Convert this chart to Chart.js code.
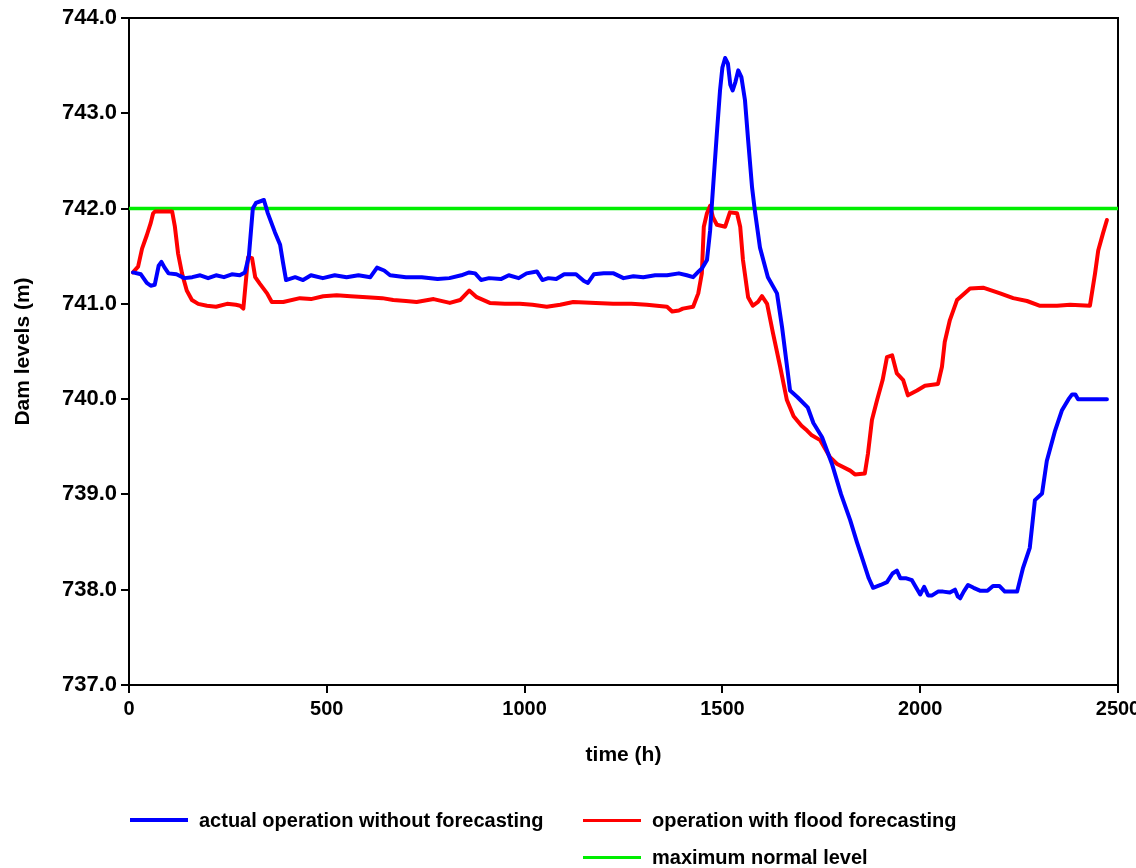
<!DOCTYPE html>
<html>
<head>
<meta charset="utf-8">
<script src="https://cdn.jsdelivr.net/npm/chart.js@4/dist/chart.umd.min.js"></script>
<style>
  body { margin: 0; background: #fff; }
  #wrap { position: relative; width: 1136px; height: 868px; font-family: "Liberation Sans", Arial, sans-serif; }
  #box { position: absolute; left: 0; top: 0; width: 1136px; height: 785px; }
  #legend { position: absolute; left: 0; top: 0; width: 1136px; height: 868px; pointer-events: none; }
  .item { position: absolute; display: flex; align-items: center; height: 24px; font-weight: bold; font-size: 20px; color: #000; white-space: nowrap; }
  .item i { display: inline-block; width: 58px; margin-right: 11px; }
</style>
</head>
<body>
<div id="wrap">
  <div id="box"><canvas id="damChart"></canvas></div>
  <div id="legend"></div>
</div>
<script>
// tempo (h) e livelli (m s.l.m.) - esercizio reale senza previsione
const actualHours = [
  10, 30, 45, 55, 65, 75, 82, 90, 100, 120, 140, 160, 180, 200, 220, 240, 260, 280, 293,
  303, 313, 321, 341, 351, 369, 382, 389, 397, 420, 440, 460, 490, 520, 550, 580, 610,
  627, 645, 660, 700, 740, 780, 810, 840, 860, 875, 890, 910, 940, 960, 985, 1005, 1031,
  1045, 1060, 1080, 1100, 1130, 1150, 1160, 1175, 1200, 1225, 1250, 1275, 1300, 1330,
  1360, 1390, 1410, 1426, 1440, 1448, 1461, 1469, 1474, 1486, 1494, 1500, 1507, 1514,
  1520, 1526, 1533, 1540, 1548, 1557, 1565, 1575, 1582, 1595, 1615, 1638, 1651, 1671,
  1690, 1716, 1730, 1752, 1777, 1800, 1823, 1840, 1855, 1870, 1881, 1900, 1916, 1930,
  1941, 1950, 1965, 1979, 1990, 2000, 2010, 2020, 2030, 2045, 2058, 2075, 2088, 2095,
  2101, 2110, 2121, 2135, 2151, 2170, 2184, 2200, 2214, 2245, 2260, 2277, 2290, 2308,
  2320, 2341, 2358, 2375, 2384, 2392, 2399, 2440, 2472
];
const actualLevels = [
  741.33, 741.31, 741.22, 741.19, 741.2, 741.4, 741.44, 741.38, 741.32, 741.31, 741.27,
  741.28, 741.3, 741.27, 741.3, 741.28, 741.31, 741.3, 741.33,
  741.5, 742.0, 742.06, 742.09, 741.95, 741.75, 741.62, 741.44, 741.25, 741.28, 741.25,
  741.3, 741.27, 741.3, 741.28, 741.3, 741.28,
  741.38, 741.35, 741.3, 741.28, 741.28, 741.26, 741.27, 741.3, 741.33, 741.32, 741.25,
  741.27, 741.26, 741.3, 741.27, 741.32, 741.34,
  741.25, 741.27, 741.26, 741.31, 741.31, 741.24, 741.22, 741.31, 741.32, 741.32, 741.27,
  741.29, 741.28, 741.3,
  741.3, 741.32, 741.3, 741.28, 741.34, 741.37, 741.46, 741.77, 742.08, 742.79, 743.24,
  743.48, 743.58, 743.52,
  743.3, 743.24, 743.33, 743.45, 743.38, 743.14, 742.72, 742.22, 741.98, 741.59, 741.28,
  741.11, 740.75, 740.09,
  740.02, 739.91, 739.75, 739.6, 739.32, 739.0, 738.73, 738.5, 738.31, 738.12, 738.02,
  738.05, 738.08, 738.17,
  738.2, 738.12, 738.12, 738.1, 738.02, 737.95, 738.03, 737.94, 737.94, 737.98, 737.98,
  737.97, 738.0, 737.93,
  737.91, 737.98, 738.05, 738.02, 737.99, 737.99, 738.04, 738.04, 737.98, 737.98, 738.23,
  738.44, 738.94, 739.01,
  739.35, 739.67, 739.88, 740.0, 740.05, 740.05, 740.0, 740.0, 740.0
];

// esercizio con previsione delle piene
const forecastHours = [
  10, 23, 33, 45, 55, 61, 66, 109, 116, 124, 134, 146, 159, 175, 197, 220, 248, 270, 281,
  289, 301, 311, 319, 331, 349, 361, 390, 432, 460, 491, 525, 560, 601, 640, 668, 700,
  727, 770, 811, 837, 860, 879, 912, 950, 988, 1020, 1056, 1090, 1123, 1180, 1224, 1270,
  1309, 1360, 1373, 1390, 1400, 1426, 1439, 1448, 1453, 1461, 1469, 1476, 1486, 1507,
  1519, 1537, 1545, 1552, 1565, 1577, 1590, 1600, 1613, 1628, 1646, 1663, 1680, 1700,
  1714, 1726, 1747, 1772, 1790, 1823, 1835, 1860, 1868, 1878, 1891, 1905, 1916, 1929,
  1941, 1957, 1969, 1992, 2012, 2045, 2055, 2062, 2075, 2093, 2101, 2126, 2159, 2202,
  2235, 2270, 2303, 2346, 2379, 2429, 2442, 2450, 2462, 2472
];
const forecastLevels = [
  741.33, 741.39, 741.58, 741.72, 741.85, 741.95, 741.97, 741.97, 741.81, 741.53, 741.32,
  741.14, 741.04, 741.0, 740.98, 740.97, 741.0, 740.99, 740.98,
  740.95, 741.49, 741.48, 741.28, 741.21, 741.11, 741.02, 741.02, 741.06, 741.05, 741.08,
  741.09, 741.08, 741.07, 741.06, 741.04, 741.03,
  741.02, 741.05, 741.01, 741.04, 741.14, 741.07, 741.01, 741.0, 741.0, 740.99, 740.97,
  740.99, 741.02, 741.01, 741.0, 741.0,
  740.99, 740.97, 740.92, 740.93, 740.95, 740.97, 741.11, 741.32, 741.81, 741.95, 742.03,
  741.91, 741.83, 741.81,
  741.96, 741.95, 741.81, 741.46, 741.07, 740.98, 741.02, 741.08, 741.0, 740.69, 740.34,
  739.99, 739.82, 739.72,
  739.67, 739.62, 739.57, 739.39, 739.32, 739.25, 739.21, 739.22, 739.43, 739.78, 739.99,
  740.2, 740.44, 740.46,
  740.27, 740.2, 740.04, 740.09, 740.14, 740.16, 740.34, 740.6, 740.83, 741.04, 741.07,
  741.16, 741.17, 741.11,
  741.06, 741.03, 740.98, 740.98, 740.99, 740.98, 741.32, 741.56, 741.74, 741.88
];

// livello massimo normale
const maxLevelHours = [0, 2500];
const maxLevelValues = [742.0, 742.0];

const seriesLabels = [
  "actual operation without forecasting",
  "operation with flood forecasting",
  "maximum normal level"
];

const toPoints = (xs, ys) => xs.map((x, i) => ({ x: x, y: ys[i] }));

const FONT = "'Liberation Sans', Arial, sans-serif";

// cornice attorno all'area del grafico
const frame = {
  id: "frame",
  beforeDatasetsDraw(chart) {
    const { ctx, chartArea: a } = chart;
    ctx.save();
    ctx.strokeStyle = "#000";
    ctx.lineWidth = 2;
    ctx.strokeRect(a.left, a.top, a.right - a.left, a.bottom - a.top);
    ctx.restore();
  }
};

const ctx = document.getElementById("damChart").getContext("2d");
const chart = new Chart(ctx, {
  type: "line",
  data: {
    datasets: [
      {
        label: seriesLabels[0],
        data: toPoints(actualHours, actualLevels),
        borderColor: "#0000ff",
        borderWidth: 4
      },
      {
        label: seriesLabels[1],
        data: toPoints(forecastHours, forecastLevels),
        borderColor: "#ff0000",
        borderWidth: 4
      },
      {
        label: seriesLabels[2],
        data: toPoints(maxLevelHours, maxLevelValues),
        borderColor: "#00ee00",
        borderWidth: 3.5
      }
    ]
  },
  options: {
    responsive: true,
    maintainAspectRatio: false,
    animation: false,
    layout: { padding: { top: 18, right: 18, left: 0, bottom: 0 } },
    elements: {
      point: { radius: 0 },
      line: { tension: 0, fill: false, borderJoinStyle: "round", borderCapStyle: "round" }
    },
    plugins: {
      legend: { display: false },
      tooltip: { enabled: false }
    },
    scales: {
      x: {
        type: "linear",
        min: 0,
        max: 2500,
        ticks: {
          stepSize: 500,
          color: "#000",
          padding: 4,
          maxRotation: 0,
          font: { family: FONT, size: 20, weight: "bold" },
          callback: (v) => String(v)
        },
        grid: { drawOnChartArea: false, tickLength: 8, color: "#000", lineWidth: 2 },
        border: { display: true, color: "#000", width: 2 },
        title: {
          display: true,
          text: "time (h)",
          color: "#000",
          padding: { top: 0, bottom: 17 },
          font: { family: FONT, size: 21, weight: "bold" }
        },
        afterFit(scale) {
          scale.height = 100;
          scale.paddingLeft = 0;
          scale.paddingRight = 0;
        }
      },
      y: {
        min: 737,
        max: 744,
        ticks: {
          stepSize: 1,
          color: "#000",
          padding: 4,
          font: { family: FONT, size: 22, weight: "bold" },
          callback: (v) => v.toFixed(1)
        },
        grid: { drawOnChartArea: false, tickLength: 8, color: "#000", lineWidth: 2 },
        border: { display: true, color: "#000", width: 2 },
        title: {
          display: true,
          text: "Dam levels (m)",
          color: "#000",
          padding: { top: 11, bottom: 0 },
          font: { family: FONT, size: 21, weight: "bold" }
        },
        afterFit(scale) {
          scale.width = 129;
          scale.paddingTop = 0;
          scale.paddingBottom = 0;
        }
      }
    }
  },
  plugins: [frame]
});

// legenda su due righe, seconda colonna allineata
const legendPos = [
  { left: 130, top: 808 },
  { left: 583, top: 808 },
  { left: 583, top: 845 }
];
const legendEl = document.getElementById("legend");
chart.data.datasets.forEach((ds, i) => {
  const item = document.createElement("div");
  item.className = "item";
  item.style.left = legendPos[i].left + "px";
  item.style.top = legendPos[i].top + "px";
  const swatch = document.createElement("i");
  swatch.style.borderTop = (i === 0 ? 4 : 3) + "px solid " + ds.borderColor;
  item.appendChild(swatch);
  item.appendChild(document.createTextNode(ds.label));
  legendEl.appendChild(item);
});
</script>
</body>
</html>
